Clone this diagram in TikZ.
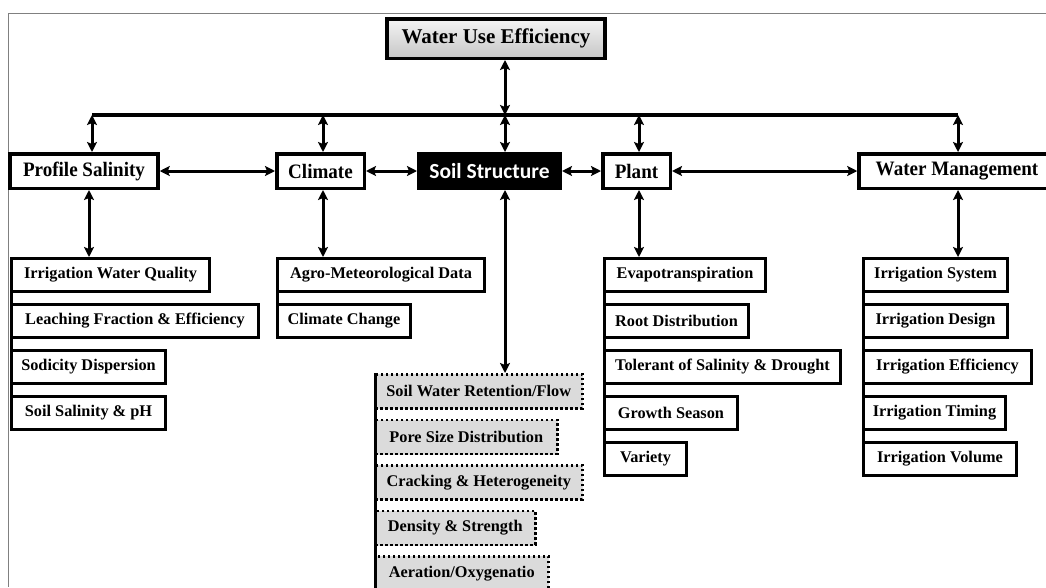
\documentclass[tikz,border=0pt]{standalone}
\usepackage{fontspec}
\setmainfont{Liberation Serif}
\newfontfamily\headfont{Liberation Serif}[FakeStretch=0.93]
\newfontfamily\soilfont{Carlito}
\usepackage{tikz}
\usetikzlibrary{arrows.meta,shadows}
\usetikzlibrary{positioning}
\tikzset{mainbox/.style={draw=black, line width=3.5pt, minimum height=34.5pt, inner sep=1pt, fill=white,
    font=\headfont\bfseries\fontsize{20.5}{24}\selectfont,
    drop shadow={opacity=0.3, shadow xshift=1.5pt, shadow yshift=-1.5pt}}}
\tikzset{subbox/.style={draw=black, line width=3pt, minimum height=33pt, inner sep=1pt, fill=white, anchor=north west,
    font=\bfseries\fontsize{16.3}{19}\selectfont,
    drop shadow={opacity=0.25, shadow xshift=1pt, shadow yshift=-1pt}}}
\tikzset{soilbox/.style={subbox, line width=2.5pt, dash pattern=on 2.5pt off 2.5pt, fill=gray!28}}
\tikzset{tip/.tip={Stealth[length=10pt, width=10pt, inset=2pt]}}
\tikzset{link/.style={line width=3pt, arrows={tip-tip}}}

\begin{document}
\begin{tikzpicture}[x=1pt, y=-1pt, node distance={10pt}]
	\useasboundingbox (0,0) rectangle (1046,587);
	\draw[gray, line width=1pt] (1046,13) -- (8,13) -- (8,587);
	
	% top and second row
	\node[mainbox, minimum width=218pt, minimum height=39.5pt, shading=axis, top color=gray!8, bottom color=gray!45,
	      font=\bfseries\fontsize{21}{25}\selectfont] (wue) at (496,38.5) {Water Use Efficiency};
	\node[mainbox, minimum width=148pt] (ps) at (84,171) {Profile Salinity};
	\node[mainbox, minimum width=87.5pt] (cli) at (320.5,171) {Climate};
	\node[mainbox, minimum width=141.5pt, fill=black, text=white,
	      font=\soilfont\bfseries\fontsize{21.5}{25}\selectfont] (ss) at (489.5,171) {Soil Structure};
	\node[mainbox, minimum width=67.5pt] (pl) at (636.5,171) {Plant};
	\node[mainbox, minimum width=196pt] (wm) at (957,171) {Water Management};
	
	% profile salinity
	\node[subbox, minimum width=198pt] (iwq) at (10,257) {Irrigation Water Quality};
	\node[subbox, minimum width=247pt, below=of iwq.south west, anchor=north west] (lfe) {Leaching Fraction \& Efficiency};
	\node[subbox, minimum width=154pt, below=of lfe.south west, anchor=north west] (sdp) {Sodicity Dispersion};
	\node[subbox, minimum width=154pt, below=of sdp.south west, anchor=north west] (ssp) {Soil Salinity \& pH};
	
	% climate
	\node[subbox, minimum width=207pt] (amd) at (276,257) {Agro-Meteorological Data};
	\node[subbox, minimum width=133pt, below=of amd.south west, anchor=north west] (cch) {Climate Change};
	
	% soil structure
	\node[soilbox, minimum width=207pt, minimum height=34pt] (swr) at (374,373) {Soil Water Retention/Flow};
	\node[soilbox, minimum width=182pt, minimum height=34pt, below=9pt of swr.south west, anchor=north west] (psd) {Pore Size Distribution};
	\node[soilbox, minimum width=207pt, minimum height=34pt, below=9pt of psd.south west, anchor=north west] (chg) {Cracking \& Heterogeneity};
	\node[soilbox, minimum width=160pt, minimum height=34pt, below=9pt of chg.south west, anchor=north west] (dst) {Density \& Strength};
	\node[soilbox, minimum width=173pt, minimum height=34pt, below=9pt of dst.south west, anchor=north west] (aer) {Aeration/Oxygenatio};
	
	% plant
	\node[subbox, minimum width=161pt] (evt) at (603,257) {Evapotranspiration};
	\node[subbox, minimum width=144pt, below=of evt.south west, anchor=north west] (rtd) {Root Distribution};
	\node[subbox, minimum width=236pt, below=of rtd.south west, anchor=north west] (tsd) {Tolerant of Salinity \& Drought};
	\node[subbox, minimum width=133pt, below=of tsd.south west, anchor=north west] (gws) {Growth Season};
	\node[subbox, minimum width=82pt, below=of gws.south west, anchor=north west] (var) {Variety};
	
	% water management
	\node[subbox, minimum width=144pt] (isy) at (862,257) {Irrigation System};
	\node[subbox, minimum width=144pt, below=of isy.south west, anchor=north west] (ids) {Irrigation Design};
	\node[subbox, minimum width=168pt, below=of ids.south west, anchor=north west] (ief) {Irrigation Efficiency};
	\node[subbox, minimum width=142pt, below=of ief.south west, anchor=north west] (itm) {Irrigation Timing};
	\node[subbox, minimum width=153pt, below=of itm.south west, anchor=north west] (ivl) {Irrigation Volume};
	
	% bus
	\coordinate (jn) at (505,115);
	\draw[line width=3.5pt] ([xshift=8pt]ps.north |- jn) -- ([xshift=1pt]wm.north |- jn);
	\draw[link] (jn) -- (jn |- wue.south);
	\draw[link] ([xshift=8pt]ps.north |- jn) -- ([xshift=8pt]ps.north);
	\draw[link] ([xshift=2.5pt]cli.north |- jn) -- ([xshift=2.5pt]cli.north);
	\draw[link] (jn) -- (jn |- ss.north);
	\draw[link] ([xshift=2.5pt]pl.north |- jn) -- ([xshift=2.5pt]pl.north);
	\draw[link] ([xshift=1pt]wm.north |- jn) -- ([xshift=1pt]wm.north);
	
	% across
	\draw[link] (ps) -- (cli);
	\draw[link] (cli) -- (ss);
	\draw[link] (ss) -- (pl);
	\draw[link] (pl) -- (wm);
	
	% down
	\draw[link] ([xshift=5pt]ps.south) -- ([xshift=5pt]ps.south |- iwq.north);
	\draw[link] ([xshift=2.5pt]cli.south) -- ([xshift=2.5pt]cli.south |- amd.north);
	\draw[link] ([xshift=15.5pt]ss.south) -- ([xshift=15.5pt]ss.south |- swr.north);
	\draw[link] ([xshift=2.5pt]pl.south) -- ([xshift=2.5pt]pl.south |- evt.north);
	\draw[link] ([xshift=1pt]wm.south) -- ([xshift=1pt]wm.south |- isy.north);
	
	% spines
	\draw[line width=3pt] ([xshift=1.5pt]iwq.north west) -- ([xshift=1.5pt]ssp.south west);
	\draw[line width=3pt] ([xshift=1.5pt]amd.north west) -- ([xshift=1.5pt]cch.south west);
	\draw[line width=3pt] ([xshift=1.5pt]swr.north west) -- ([xshift=1.5pt]aer.south west);
	\draw[line width=3pt] ([xshift=1.5pt]evt.north west) -- ([xshift=1.5pt]var.south west);
	\draw[line width=3pt] ([xshift=1.5pt]isy.north west) -- ([xshift=1.5pt]ivl.south west);
\end{tikzpicture}
\end{document}
